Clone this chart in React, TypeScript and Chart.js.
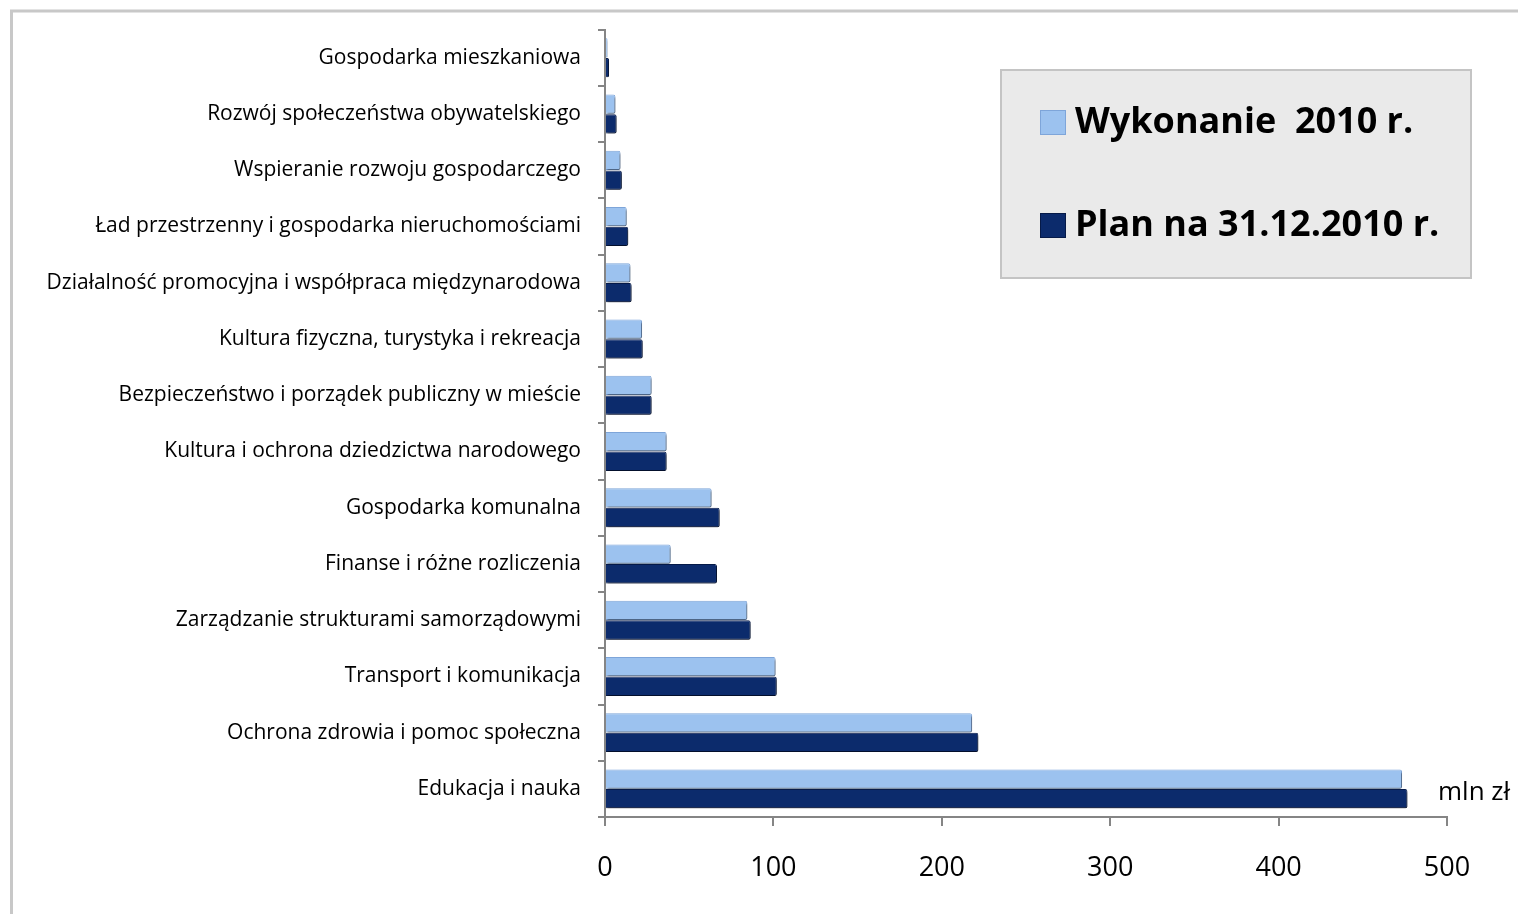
import React, { useEffect, useRef } from "react";
import { Chart, registerables } from "chart.js";

Chart.register(...registerables);

const categories: string[] = [
  "Gospodarka mieszkaniowa",
  "Rozwój społeczeństwa obywatelskiego",
  "Wspieranie rozwoju gospodarczego",
  "Ład przestrzenny i gospodarka nieruchomościami",
  "Działalność promocyjna i współpraca międzynarodowa",
  "Kultura fizyczna, turystyka i rekreacja",
  "Bezpieczeństwo i porządek publiczny w mieście",
  "Kultura i ochrona dziedzictwa narodowego",
  "Gospodarka komunalna",
  "Finanse i różne rozliczenia",
  "Zarządzanie strukturami samorządowymi",
  "Transport i komunikacja",
  "Ochrona zdrowia i pomoc społeczna",
  "Edukacja i nauka",
];

const wykonanie: number[] = [1.5, 6.2, 9.2, 12.9, 15.1, 22, 27.7, 36.6, 63.3, 39, 84.5, 101.3, 218, 473.3];
const plan: number[] = [2.4, 6.9, 10, 13.8, 15.8, 22.4, 27.7, 36.6, 68.1, 66.5, 86.5, 102, 221.7, 476.5];

const seriesLabels: string[] = ["Wykonanie  2010 r.", "Plan na 31.12.2010 r."];
const xTicks: number[] = [0, 100, 200, 300, 400, 500];
const unitLabel = "mln zł";

const FONT = "'Open Sans', 'DejaVu Sans', sans-serif";

const decorPlugin = {
  id: "decor",
  beforeDraw(chart: any) {
    const ctx = chart.ctx;
    ctx.save();
    ctx.fillStyle = "#ffffff";
    ctx.fillRect(0, 0, chart.width, chart.height);
    ctx.strokeStyle = "#c8c8c8";
    ctx.lineWidth = 3;
    ctx.beginPath();
    ctx.moveTo(11.5, chart.height + 5);
    ctx.lineTo(11.5, 11);
    ctx.lineTo(chart.width + 5, 11);
    ctx.stroke();
    ctx.restore();
  },
  beforeDatasetsDraw(chart: any) {
    const ctx = chart.ctx;
    ctx.save();
    ctx.shadowColor = "rgba(0,0,0,0.4)";
    ctx.shadowOffsetX = 1.5;
    ctx.shadowOffsetY = 2.5;
    ctx.shadowBlur = 2;
  },
  afterDatasetsDraw(chart: any) {
    chart.ctx.restore();
  },
  afterDraw(chart: any) {
    const ctx = chart.ctx;
    const area = chart.chartArea;
    ctx.save();
    // unit label
    ctx.fillStyle = "#000000";
    ctx.font = `26px ${FONT}`;
    ctx.textAlign = "left";
    ctx.textBaseline = "middle";
    ctx.fillText(unitLabel, area.right - 9, area.bottom - 24);

    // legend box
    const bx = 1001, by = 70, bw = 470, bh = 208;
    ctx.fillStyle = "#eaeaea";
    ctx.fillRect(bx, by, bw, bh);
    ctx.strokeStyle = "#c4c4c4";
    ctx.lineWidth = 2;
    ctx.strokeRect(bx, by, bw, bh);
    const rows = [122, 225];
    chart.data.datasets.forEach((ds: any, i: number) => {
      const cy = rows[i];
      ctx.fillStyle = ds.backgroundColor;
      ctx.fillRect(1040, cy - 12, 26, 25);
      ctx.strokeStyle = ds.borderColor;
      ctx.lineWidth = 1;
      ctx.strokeRect(1040.5, cy - 11.5, 25, 24);
      ctx.fillStyle = "#000000";
      ctx.font = `bold 36px ${FONT}`;
      ctx.textAlign = "left";
      ctx.textBaseline = "middle";
      ctx.fillText(ds.label, 1075, cy + 1);
    });
    ctx.restore();
  },
};

export default function App() {
  const ref = useRef<HTMLCanvasElement | null>(null);

  useEffect(() => {
    if (!ref.current) return;
    const chart = new Chart(ref.current, {
      type: "bar",
      data: {
        labels: categories,
        datasets: [
          {
            label: seriesLabels[0],
            data: wykonanie,
            backgroundColor: "#9cc2ef",
            borderColor: "#7ea5d9",
            borderWidth: 1,
            borderRadius: 2,
            borderSkipped: "start",
          },
          {
            label: seriesLabels[1],
            data: plan,
            backgroundColor: "#0c2b6c",
            borderColor: "#061a48",
            borderWidth: 1,
            borderRadius: 2,
            borderSkipped: "start",
          },
        ],
      },
      options: {
        indexAxis: "y",
        responsive: false,
        animation: false,
        layout: { padding: { left: 0, right: 71, top: 15, bottom: 37 } },
        plugins: {
          legend: { display: false },
          tooltip: { enabled: false },
        },
        datasets: {
          bar: { categoryPercentage: 0.7, barPercentage: 0.98 },
        },
        scales: {
          x: {
            type: "linear",
            min: 0,
            max: 500,
            afterBuildTicks: (scale: any) => {
              scale.ticks = xTicks.map((v) => ({ value: v }));
            },
            afterFit: (scale: any) => {
              scale.height = 60;
            },
            grid: {
              display: true,
              drawOnChartArea: false,
              drawTicks: true,
              tickLength: 9,
              color: "#858585",
              lineWidth: 2,
            },
            border: { display: true, color: "#858585", width: 2 },
            ticks: {
              color: "#000000",
              font: { family: FONT, size: 27 },
              padding: 26,
            },
          },
          y: {
            type: "category",
            afterFit: (scale: any) => {
              scale.width = 605;
            },
            grid: {
              display: true,
              offset: true,
              drawOnChartArea: false,
              drawTicks: true,
              tickLength: 7,
              color: "#858585",
              lineWidth: 2,
            },
            border: { display: true, color: "#858585", width: 2 },
            ticks: {
              color: "#000000",
              font: { family: FONT, size: 21 },
              padding: 17,
              autoSkip: false,
            },
          },
        },
      },
      plugins: [decorPlugin],
    } as any);
    return () => chart.destroy();
  }, []);

  return (
    <div style={{ position: "fixed", left: 0, top: 0, width: 1518, height: 914 }}>
      <canvas ref={ref} width={1518} height={914} style={{ display: "block" }} />
    </div>
  );
}
